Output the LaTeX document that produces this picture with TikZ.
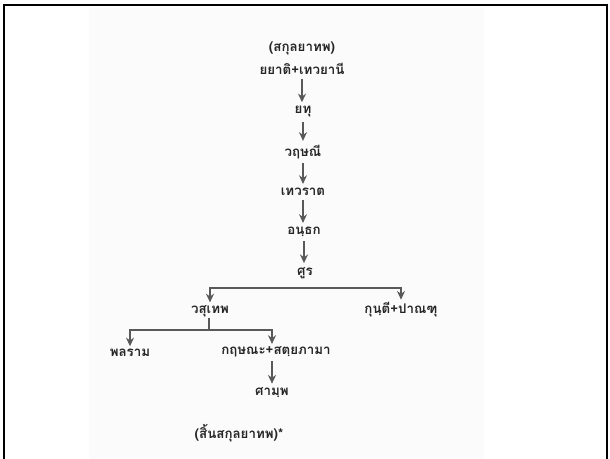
\documentclass[tikz,border=0pt]{standalone}
\usepackage{fontspec}
\usetikzlibrary{arrows.meta}
\newfontfamily\thaifont[Script=Thai]{Loma}
\begin{document}
\begin{tikzpicture}[x=0.75pt, y=-0.75pt, >={Stealth[length=6.5pt, width=6pt]},
    person/.style={font=\thaifont\bfseries, text=black!85, inner sep=1pt},
    link/.style={->, line width=1pt, black!65}]
\useasboundingbox (0,0) rectangle (610,459);
\fill[black!1.5] (89,8) rectangle (484,459);
\draw[line width=1.6pt] (4,459) -- (4,5) -- (607,5) -- (607,459);

\node[person] (clan) at (302,48) {(สกุลยาทพ)};
\node[person] (yayati) at (302,69) {ยยาติ+เทวยานี};
\node[person] (yadu) at (303,112) {ยทุ};
\node[person] (vrishni) at (303,152) {วฤษณี};
\node[person] (devarata) at (303,192) {เทวราต};
\node[person] (andhaka) at (304,232) {อนฺธก};
\node[person] (shura) at (305,273) {ศูร};
\node[person] (vasudeva) at (210,311) {วสุเทพ};
\node[person] (kunti) at (401,310) {กุนฺตี+ปาณฑุ};
\node[person] (balarama) at (130,353) {พลราม};
\node[person] (krishna) at (276,352) {กฤษณะ+สตฺยภามา};
\node[person] (samba) at (272,393) {ศามฺพ};
\node[person] (clanend) at (239,433) {(สิ้นสกุลยาทพ)*};

\foreach \a/\b in {yayati/yadu, yadu/vrishni, vrishni/devarata, devarata/andhaka, andhaka/shura}
    \draw[link] ([yshift=-2pt]\a.south) -- ([yshift=2pt]\a.south |- \b.north);

\coordinate (fork1) at (305,288);
\draw[link] (fork1) -| ([yshift=1pt]vasudeva.north);
\draw[link] (fork1) -| ([yshift=1pt]kunti.north);

\coordinate (fork2) at (209,330);
\draw[line width=1pt, black!65] (vasudeva.south -| fork2) -- (fork2);
\draw[link] (fork2) -| ([yshift=1pt]balarama.north);
\draw[link] (fork2) -| ([xshift=-3pt, yshift=1pt]krishna.north);
\draw[link] ([yshift=-2pt]samba.north |- krishna.south) -- ([yshift=2pt]samba.north);
\end{tikzpicture}
\end{document}
